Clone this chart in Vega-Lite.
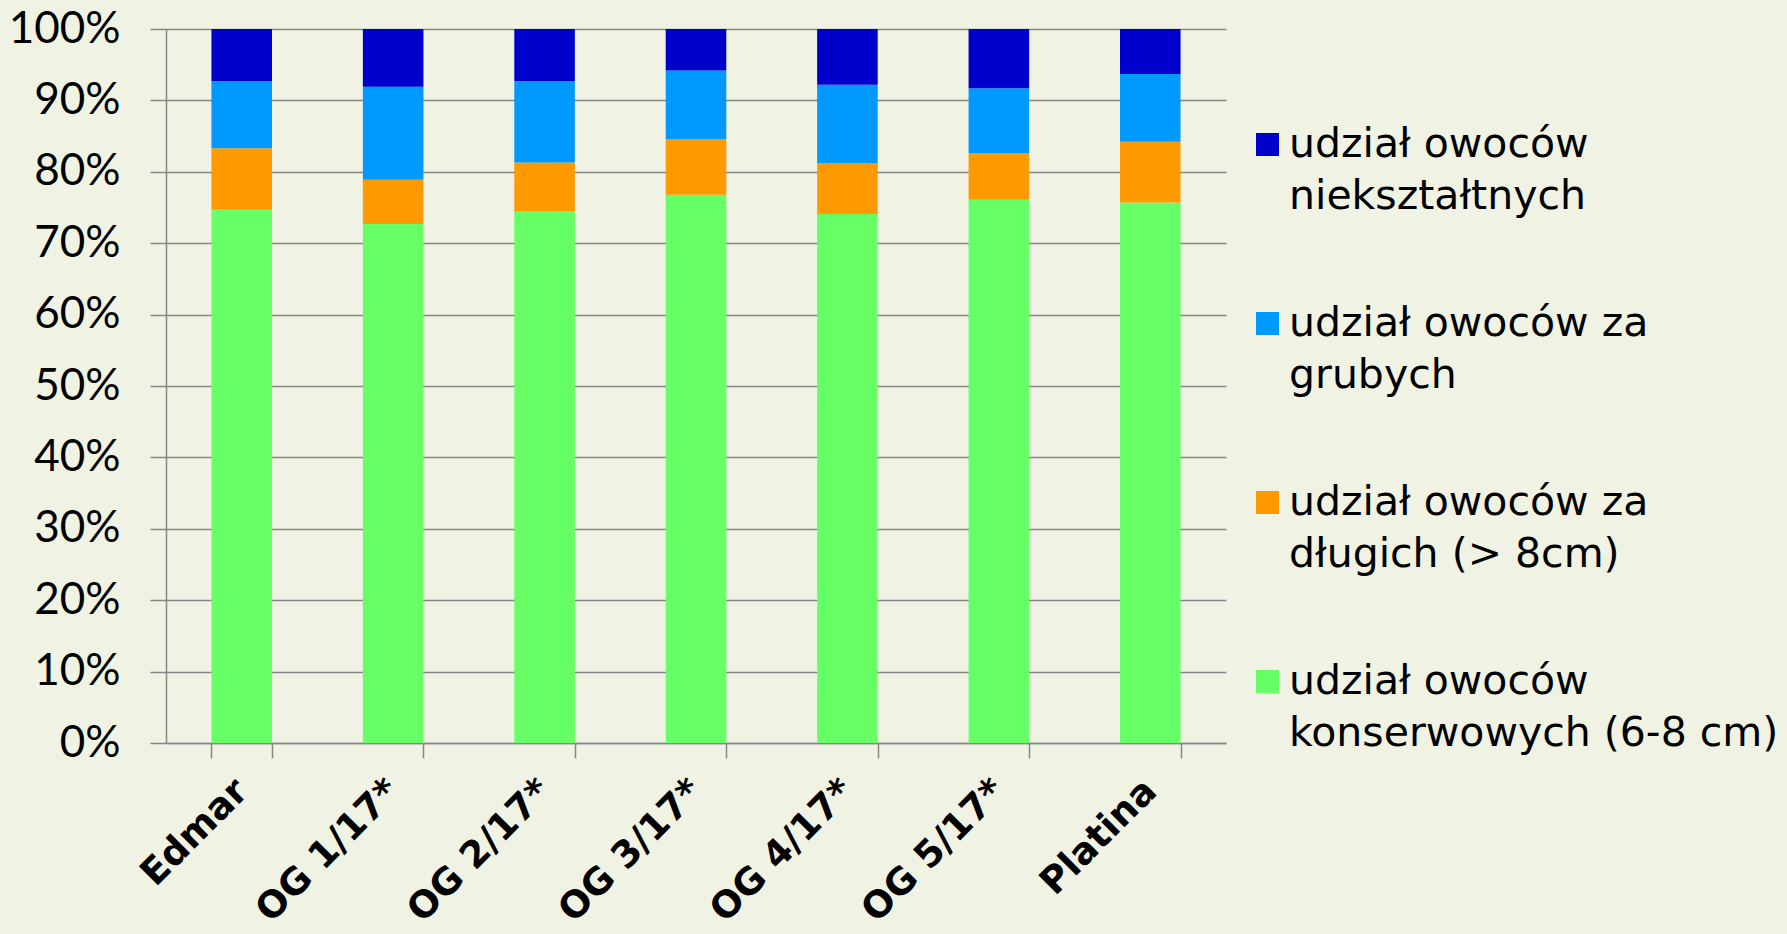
{
  "$schema": "https://vega.github.io/schema/vega-lite/v6.json",
  "width": 1060,
  "height": 714,
  "autosize": {"type": "none"},
  "padding": {"left": 166, "top": 29, "right": 561, "bottom": 191},
  "background": "#F0F3E3",
  "data": {
    "values": [
      {"odmiana": "Edmar", "seria": "udział owoców konserwowych (6-8 cm)", "udzial": 74.7},
      {"odmiana": "Edmar", "seria": "udział owoców za długich (> 8cm)", "udzial": 8.6},
      {"odmiana": "Edmar", "seria": "udział owoców za grubych", "udzial": 9.4},
      {"odmiana": "Edmar", "seria": "udział owoców niekształtnych", "udzial": 7.3},
      {"odmiana": "OG 1/17*", "seria": "udział owoców konserwowych (6-8 cm)", "udzial": 72.7},
      {"odmiana": "OG 1/17*", "seria": "udział owoców za długich (> 8cm)", "udzial": 6.2},
      {"odmiana": "OG 1/17*", "seria": "udział owoców za grubych", "udzial": 13.0},
      {"odmiana": "OG 1/17*", "seria": "udział owoców niekształtnych", "udzial": 8.1},
      {"odmiana": "OG 2/17*", "seria": "udział owoców konserwowych (6-8 cm)", "udzial": 74.5},
      {"odmiana": "OG 2/17*", "seria": "udział owoców za długich (> 8cm)", "udzial": 6.8},
      {"odmiana": "OG 2/17*", "seria": "udział owoców za grubych", "udzial": 11.4},
      {"odmiana": "OG 2/17*", "seria": "udział owoców niekształtnych", "udzial": 7.3},
      {"odmiana": "OG 3/17*", "seria": "udział owoców konserwowych (6-8 cm)", "udzial": 76.8},
      {"odmiana": "OG 3/17*", "seria": "udział owoców za długich (> 8cm)", "udzial": 7.8},
      {"odmiana": "OG 3/17*", "seria": "udział owoców za grubych", "udzial": 9.6},
      {"odmiana": "OG 3/17*", "seria": "udział owoców niekształtnych", "udzial": 5.8},
      {"odmiana": "OG 4/17*", "seria": "udział owoców konserwowych (6-8 cm)", "udzial": 74.1},
      {"odmiana": "OG 4/17*", "seria": "udział owoców za długich (> 8cm)", "udzial": 7.1},
      {"odmiana": "OG 4/17*", "seria": "udział owoców za grubych", "udzial": 11.0},
      {"odmiana": "OG 4/17*", "seria": "udział owoców niekształtnych", "udzial": 7.8},
      {"odmiana": "OG 5/17*", "seria": "udział owoców konserwowych (6-8 cm)", "udzial": 76.1},
      {"odmiana": "OG 5/17*", "seria": "udział owoców za długich (> 8cm)", "udzial": 6.5},
      {"odmiana": "OG 5/17*", "seria": "udział owoców za grubych", "udzial": 9.1},
      {"odmiana": "OG 5/17*", "seria": "udział owoców niekształtnych", "udzial": 8.3},
      {"odmiana": "Platina", "seria": "udział owoców konserwowych (6-8 cm)", "udzial": 75.7},
      {"odmiana": "Platina", "seria": "udział owoców za długich (> 8cm)", "udzial": 8.5},
      {"odmiana": "Platina", "seria": "udział owoców za grubych", "udzial": 9.5},
      {"odmiana": "Platina", "seria": "udział owoców niekształtnych", "udzial": 6.3}
    ]
  },
  "transform": [
    {"calculate": "indexof(['udział owoców konserwowych (6-8 cm)', 'udział owoców za długich (> 8cm)', 'udział owoców za grubych', 'udział owoców niekształtnych'], datum.seria)", "as": "kolejnosc"}
  ],
  "mark": {"type": "bar"},
  "encoding": {
    "x": {
      "field": "odmiana",
      "type": "nominal",
      "sort": null,
      "scale": {"paddingInner": 0.6, "paddingOuter": 0.3},
      "axis": {
        "title": null,
        "labelAngle": -45,
        "labelAlign": "right",
        "labelBaseline": "middle",
        "labelFont": "DejaVu Sans",
        "labelFontWeight": "bold",
        "labelFontSize": 37,
        "labelColor": "#000000",
        "labelLimit": 500,
        "labelPadding": 27,
        "tickBand": "extent",
        "tickSize": 15,
        "tickColor": "#868686",
        "tickWidth": 1.5,
        "domainColor": "#868686",
        "domainWidth": 1.5,
        "grid": false
      }
    },
    "y": {
      "field": "udzial",
      "type": "quantitative",
      "stack": "normalize",
      "scale": {"domain": [0, 1]},
      "axis": {
        "title": null,
        "format": ".0%",
        "values": [0, 0.1, 0.2, 0.3, 0.4, 0.5, 0.6, 0.7, 0.8, 0.9, 1],
        "labelFont": "Lato",
        "labelFontSize": 44,
        "labelColor": "#000000",
        "labelPadding": 30,
        "tickSize": 16,
        "tickColor": "#868686",
        "tickWidth": 1.5,
        "domainColor": "#868686",
        "domainWidth": 1.5,
        "grid": true,
        "gridColor": "#868686",
        "gridWidth": 1.5
      }
    },
    "order": {"field": "kolejnosc", "type": "quantitative", "sort": "ascending"},
    "color": {
      "field": "seria",
      "type": "nominal",
      "sort": [
        "udział owoców konserwowych (6-8 cm)",
        "udział owoców za długich (> 8cm)",
        "udział owoców za grubych",
        "udział owoców niekształtnych"
      ],
      "scale": {"range": ["#66FF66", "#FF9900", "#0099FF", "#0000CC"]},
      "legend": {
        "title": null,
        "orient": "none",
        "legendX": 1081,
        "legendY": 95,
        "padding": 0,
        "values": [
          "udział owoców niekształtnych",
          "udział owoców za grubych",
          "udział owoców za długich (> 8cm)",
          "udział owoców konserwowych (6-8 cm)"
        ],
        "symbolType": "square",
        "symbolSize": 529,
        "symbolStrokeWidth": 0,
        "labelFont": "DejaVu Sans",
        "labelFontSize": 41,
        "labelColor": "#000000",
        "labelLimit": 800,
        "labelOffset": 1,
        "rowPadding": 85,
        "labelExpr": "split(replace(datum.label, regexp('(owoców( za)?) '), '$1|'), '|')"
      }
    }
  },
  "config": {
    "view": {"stroke": null},
    "style": {"guide-label": {"lineHeight": 52}}
  }
}
